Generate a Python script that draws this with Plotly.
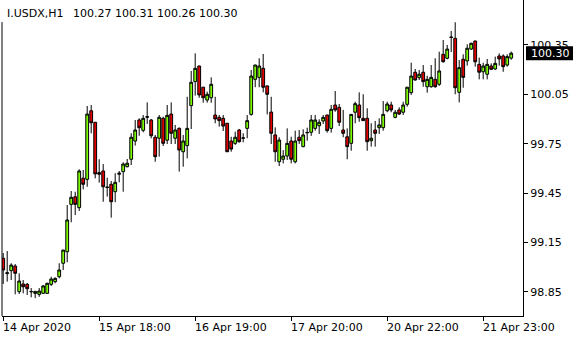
import plotly.graph_objects as go

symbol_title = "I.USDX,H1"
header_prices = "100.27 100.31 100.26 100.30"

opens = [99.053, 98.960, 98.978, 99.006, 98.850, 98.897, 98.895, 98.851, 98.840, 98.834,
         98.840, 98.840, 98.895, 98.911, 98.941, 99.023, 99.093, 99.381, 99.427, 99.361,
         99.540, 99.533, 99.950, 99.880, 99.574, 99.584, 99.486, 99.503, 99.458, 99.564,
         99.580, 99.610, 99.655, 99.766, 99.894, 99.831, 99.910, 99.894, 99.789, 99.783,
         99.904, 99.771, 99.930, 99.783, 99.843, 99.701, 99.738, 99.981, 100.127, 100.222,
         100.093, 100.015, 100.029, 99.924, 99.910, 99.904, 99.874, 99.766, 99.752, 99.833,
         99.783, 99.843, 99.928, 100.141, 100.153, 100.208, 100.101, 99.942, 99.803, 99.640,
         99.655, 99.675, 99.766, 99.640, 99.789, 99.732, 99.816, 99.819, 99.843, 99.859,
         99.888, 99.924, 99.843, 99.985, 99.971, 99.833, 99.792, 99.752, 99.941, 99.985,
         99.904, 99.904, 99.768, 99.833, 99.847, 99.847, 99.950, 99.985, 99.910, 99.955,
         99.941, 99.989, 100.060, 100.184, 100.151, 100.184, 100.096, 100.096, 100.141, 100.111,
         100.293, 100.269, 100.398, 100.390, 100.062, 100.263, 100.253, 100.325, 100.374, 100.232,
         100.187, 100.172, 100.222, 100.204, 100.283, 100.283, 100.228, 100.27]
highs = [99.085, 99.097, 99.023, 99.018, 98.962, 98.921, 98.903, 98.872, 98.854, 98.872,
         98.891, 98.905, 98.941, 98.937, 99.023, 99.105, 99.377, 99.462, 99.458, 99.594,
         99.590, 99.979, 99.985, 99.882, 99.655, 99.626, 99.543, 99.523, 99.570, 99.584,
         99.637, 99.657, 99.813, 99.894, 99.904, 99.924, 100.001, 99.900, 99.803, 99.924,
         99.914, 99.985, 100.001, 99.864, 99.849, 99.803, 100.035, 100.192, 100.299, 100.224,
         100.095, 100.066, 100.153, 100.035, 99.924, 99.924, 99.876, 99.792, 99.823, 99.839,
         99.813, 99.924, 100.198, 100.230, 100.269, 100.295, 100.103, 100.035, 99.849, 99.789,
         99.711, 99.843, 99.792, 99.829, 99.833, 99.837, 99.847, 99.924, 99.924, 99.898,
         99.924, 99.926, 99.985, 100.070, 99.991, 99.955, 99.843, 99.930, 100.005, 100.062,
         100.050, 99.965, 99.874, 99.888, 99.904, 100.009, 100.005, 100.005, 99.955, 99.971,
         100.005, 100.095, 100.242, 100.204, 100.198, 100.228, 100.163, 100.228, 100.269, 100.309,
         100.380, 100.350, 100.435, 100.488, 100.258, 100.293, 100.354, 100.364, 100.376, 100.273,
         100.242, 100.265, 100.238, 100.279, 100.299, 100.293, 100.293, 100.31]
lows = [98.897, 98.911, 98.921, 98.834, 98.836, 98.840, 98.830, 98.816, 98.811, 98.819,
        98.838, 98.838, 98.885, 98.901, 98.931, 98.982, 99.029, 99.272, 99.316, 99.341,
        99.472, 99.488, 99.813, 99.539, 99.513, 99.397, 99.428, 99.300, 99.394, 99.515,
        99.458, 99.606, 99.620, 99.738, 99.798, 99.819, 99.870, 99.782, 99.640, 99.671,
        99.736, 99.748, 99.748, 99.748, 99.580, 99.610, 99.661, 99.839, 100.042, 100.029,
        99.999, 99.999, 99.999, 99.874, 99.853, 99.827, 99.699, 99.701, 99.742, 99.756,
        99.758, 99.783, 99.920, 100.093, 100.093, 100.062, 99.928, 99.748, 99.640, 99.614,
        99.630, 99.651, 99.630, 99.630, 99.748, 99.728, 99.768, 99.797, 99.829, 99.809,
        99.870, 99.817, 99.817, 99.944, 99.857, 99.789, 99.655, 99.707, 99.874, 99.883,
        99.888, 99.707, 99.732, 99.732, 99.809, 99.829, 99.941, 99.941, 99.904, 99.924,
        99.924, 99.975, 100.046, 100.133, 100.137, 100.096, 100.060, 100.090, 100.090, 100.101,
        100.242, 100.263, 100.307, 100.050, 100.001, 100.090, 100.224, 100.319, 100.218, 100.141,
        100.141, 100.141, 100.198, 100.198, 100.224, 100.187, 100.218, 100.26]
closes = [98.982, 98.965, 99.012, 98.962, 98.915, 98.880, 98.868, 98.850, 98.852, 98.854,
          98.885, 98.901, 98.927, 98.931, 98.982, 99.103, 99.286, 99.424, 99.381, 99.584,
          99.503, 99.930, 99.877, 99.566, 99.564, 99.488, 99.484, 99.397, 99.515, 99.570,
          99.626, 99.631, 99.789, 99.833, 99.847, 99.904, 99.914, 99.798, 99.671, 99.910,
          99.752, 99.922, 99.813, 99.833, 99.711, 99.766, 99.843, 100.123, 100.208, 100.046,
          100.029, 100.050, 100.111, 99.900, 99.890, 99.857, 99.701, 99.717, 99.789, 99.762,
          99.785, 99.890, 100.161, 100.228, 100.222, 100.093, 100.050, 99.813, 99.701, 99.772,
          99.675, 99.752, 99.655, 99.766, 99.768, 99.803, 99.818, 99.894, 99.894, 99.880,
          99.910, 99.829, 99.959, 99.955, 99.880, 99.813, 99.732, 99.928, 99.993, 99.908,
          99.890, 99.762, 99.783, 99.813, 99.864, 99.928, 99.991, 99.955, 99.941, 99.930,
          99.985, 100.093, 100.161, 100.137, 100.172, 100.127, 100.141, 100.153, 100.096, 100.192,
          100.248, 100.325, 100.396, 100.090, 100.212, 100.153, 100.330, 100.360, 100.248, 100.184,
          100.222, 100.232, 100.202, 100.238, 100.265, 100.218, 100.279, 100.30]

bar_index = list(range(len(opens)))
x_tick_bars = [0, 24, 48, 72, 96, 120]
x_tick_labels = ["14 Apr 2020", "15 Apr 18:00", "16 Apr 19:00",
                 "17 Apr 20:00", "20 Apr 22:00", "21 Apr 23:00"]
y_tick_vals = [98.85, 99.15, 99.45, 99.75, 100.05, 100.35]
last_price = closes[-1]

FONT = "DejaVu Sans"
GREEN = "#7CFC00"
RED = "#e00000"

fig = go.Figure()
fig.add_trace(go.Candlestick(
    x=bar_index, open=opens, high=highs, low=lows, close=closes,
    increasing=dict(fillcolor=GREEN, line=dict(color="black", width=1)),
    decreasing=dict(fillcolor=RED, line=dict(color="black", width=1)),
    whiskerwidth=0, hoverinfo="skip", showlegend=False,
))

annotations = []
for b, lab in zip(x_tick_bars, x_tick_labels):
    annotations.append(dict(
        x=b, xref="x", y=0, yref="paper", yshift=-11, text=lab,
        xanchor="left", yanchor="middle", xshift=-2, showarrow=False,
        font=dict(family=FONT, size=11, color="black"),
    ))
annotations.append(dict(
    x=0, xref="paper", y=1, yref="paper", yshift=-13, xshift=3,
    text=symbol_title, xanchor="left", yanchor="middle", showarrow=False,
    font=dict(family=FONT, size=11, color="black"),
))
annotations.append(dict(
    x=0, xref="paper", y=1, yref="paper", yshift=-13, xshift=69,
    text=header_prices, xanchor="left", yanchor="middle", showarrow=False,
    font=dict(family=FONT, size=11, color="black"),
))
annotations.append(dict(
    x=1, xref="paper", y=last_price, yref="y", xshift=6,
    text=f"{last_price:.2f}", xanchor="left", yanchor="middle", showarrow=False,
    font=dict(family=FONT, size=11, color="white"),
))

shapes = [
    dict(type="line", xref="paper", yref="paper", x0=0, x1=0, y0=0, y1=0.93,
         line=dict(color="black", width=1)),
    dict(type="rect", xref="paper", yref="y", xsizemode="pixel", ysizemode="pixel",
         xanchor=1, yanchor=last_price, x0=3, x1=50, y0=-7, y1=7,
         fillcolor="black", line=dict(width=0), layer="above"),
]

fig.update_layout(
    width=580, height=340,
    margin=dict(l=2, r=57, t=0, b=24),
    paper_bgcolor="white", plot_bgcolor="white",
    boxgap=0.3, boxgroupgap=0,
    showlegend=False,
    annotations=annotations, shapes=shapes,
    xaxis=dict(
        range=[-0.3, 129.95], rangeslider=dict(visible=False),
        showgrid=False, zeroline=False, showline=True, linecolor="black", linewidth=1,
        tickmode="array", tickvals=x_tick_bars, showticklabels=False,
        ticks="outside", ticklen=4, tickcolor="black", tickwidth=1,
    ),
    yaxis=dict(
        range=[98.7023, 100.6233], side="right",
        showgrid=False, zeroline=False, showline=True, linecolor="black", linewidth=1,
        tickmode="array", tickvals=y_tick_vals, ticktext=[f"{v:.2f}" for v in y_tick_vals],
        ticks="outside", ticklen=4, tickcolor="black", tickwidth=1,
        tickfont=dict(family=FONT, size=11, color="black"),
    ),
)

fig.write_html("out.html", config={"displayModeBar": False})
